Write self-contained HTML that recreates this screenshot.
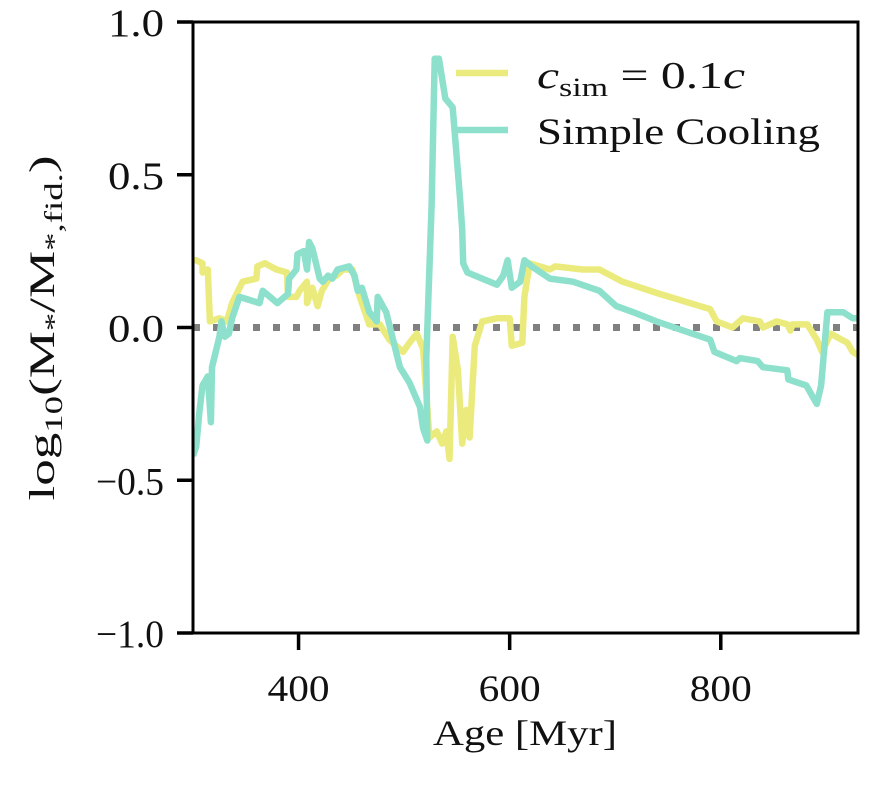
<!DOCTYPE html>
<html><head><meta charset="utf-8"><style>
body{margin:0;background:#fff}
svg text{font-family:"Liberation Serif",serif;fill:#111}
</style></head><body>
<svg id="chart" width="884" height="784">
<g id="plot"></g>
</svg>
<script>
const xTicks=[400,600,800];
const yTicks=[1.0,0.5,0.0,-0.5,-1.0];
const yTickLabels=["1.0","0.5","0.0","\u22120.5","\u22121.0"];
const csimAge=[300,303,309,309,314,316,325,332,337,347,360,361,368,379,389,390,398,401,408,408,413,418,422,429,436,442,451,458,467,477,486,499,505,512,518,524,531,536,540,543,546,551,555,559,562,567,574,588,600,602,612,614,619,638,643,669,685,707,742,790,796,811,821,837,840,853,863,866,868,882,891,896,904,920,925,930];
const csimVal=[0.22,0.22,0.21,0.18,0.19,0.02,0.03,0.02,0.08,0.15,0.16,0.20,0.21,0.19,0.18,0.10,0.10,0.12,0.15,0.08,0.13,0.07,0.12,0.16,0.17,0.19,0.19,0.10,0.01,0.01,-0.04,-0.08,-0.05,-0.02,-0.07,-0.36,-0.34,-0.38,-0.34,-0.43,-0.03,-0.14,-0.38,-0.27,-0.36,-0.06,0.02,0.03,0.03,-0.06,-0.05,0.10,0.21,0.19,0.20,0.19,0.19,0.15,0.11,0.06,0.02,0.00,0.03,0.02,0.00,0.02,0.01,-0.01,0.01,0.01,-0.04,-0.08,-0.02,-0.05,-0.08,-0.09];
const coolAge=[300,303,306,309,314,317,318,325,327,330,334,337,344,363,366,380,390,391,398,399,405,408,410,413,420,423,428,432,437,448,453,456,460,467,474,475,483,496,505,515,518,522,521,526,529,533,539,546,553,555,556,560,588,594,598,602,610,614,621,638,660,685,701,717,739,790,794,815,818,835,840,863,864,881,886,891,895,901,916,925,930];
const coolVal=[-0.42,-0.39,-0.28,-0.19,-0.16,-0.31,-0.13,-0.03,0.02,-0.03,-0.02,0.03,0.10,0.08,0.12,0.08,0.11,0.16,0.19,0.24,0.25,0.19,0.28,0.26,0.16,0.15,0.17,0.16,0.19,0.20,0.17,0.12,0.13,0.05,0.02,0.10,0.05,-0.13,-0.18,-0.26,-0.33,-0.37,-0.10,0.40,0.88,0.88,0.75,0.72,0.42,0.32,0.21,0.18,0.14,0.17,0.22,0.13,0.15,0.22,0.20,0.16,0.15,0.12,0.07,0.05,0.02,-0.04,-0.08,-0.11,-0.10,-0.11,-0.13,-0.14,-0.17,-0.19,-0.22,-0.25,-0.19,0.05,0.05,0.03,0.03];
const L=193,R=858,T=22,B=633,x0=300,x1=930,y0=-1,y1=1;
const sx=v=>L+(v-x0)/(x1-x0)*(R-L);
const sy=v=>B-(v-y0)/(y1-y0)*(B-T);
const NS="http://www.w3.org/2000/svg";
const g=document.getElementById('plot');
function mk(t,a){const e=document.createElementNS(NS,t);for(const k in a)e.setAttribute(k,a[k]);g.appendChild(e);return e;}
const clip=document.createElementNS(NS,'clipPath');clip.id='cp';
const cr=document.createElementNS(NS,'rect');cr.setAttribute('x',L);cr.setAttribute('y',T);cr.setAttribute('width',R-L);cr.setAttribute('height',B-T);clip.appendChild(cr);g.appendChild(clip);
const zl=mk('line',{x1:L,x2:R,y1:sy(0),y2:sy(0),stroke:'#808080','stroke-width':7,'stroke-dasharray':'7 13'});


function path(a,v,c,n){const d=a.map((t,i)=>(i?'L':'M')+sx(t).toFixed(1)+','+sy(v[i]).toFixed(1)).join('');
const p=mk('path',{d:d,fill:'none',stroke:c,'stroke-width':6.5,'stroke-linejoin':'round','clip-path':'url(#cp)'});

}
path(csimAge,csimVal,'#ebeb7d','csim-series-line');
path(coolAge,coolVal,'#8de0cb','simple-cooling-series-line');
const fr=mk('rect',{x:L,y:T,width:R-L,height:B-T,fill:'none',stroke:'#000','stroke-width':3});


xTicks.forEach(t=>{const l=mk('line',{x1:sx(t),x2:sx(t),y1:B,y2:B+17,stroke:'#000','stroke-width':3.5});


const tx=mk('text',{x:sx(t),y:B+68,'text-anchor':'middle','font-size':37,textLength:62,lengthAdjust:'spacingAndGlyphs'});tx.textContent=t;

});
yTicks.forEach((t,i)=>{const l=mk('line',{x1:L-16,x2:L,y1:sy(t),y2:sy(t),stroke:'#000','stroke-width':3.5});


const lab=yTickLabels[i];
const tx=mk('text',{x:164,y:sy(t)+14,'text-anchor':'end','font-size':39,textLength:lab.length>3?68:56,lengthAdjust:'spacingAndGlyphs'});tx.textContent=lab;

});
const xt=mk('text',{x:525,y:745,'text-anchor':'middle','font-size':36,textLength:184,lengthAdjust:'spacingAndGlyphs'});xt.textContent='Age [Myr]';


const yt=mk('text',{x:0,y:0,'text-anchor':'middle','font-size':36,textLength:345,lengthAdjust:'spacingAndGlyphs',transform:'translate(54,328) rotate(-90)'});
yt.innerHTML='log<tspan font-size="25" dy="8">10</tspan><tspan dy="-8">(M</tspan><tspan font-size="25" dy="8">*</tspan><tspan dy="-8">/M</tspan><tspan font-size="25" dy="8">*,fid.</tspan><tspan dy="-8">)</tspan>';


const l1=mk('line',{x1:456,x2:508,y1:73,y2:73,stroke:'#ebeb7d','stroke-width':6.5});


const t1=mk('text',{x:537,y:88,'font-size':38,textLength:208,lengthAdjust:'spacingAndGlyphs'});
t1.innerHTML='<tspan font-style="italic">c</tspan><tspan font-size="26" dy="8">sim</tspan><tspan dy="-8"> = 0.1</tspan><tspan font-style="italic">c</tspan>';


const l2=mk('line',{x1:456,x2:508,y1:130,y2:130,stroke:'#8de0cb','stroke-width':6.5});


const t2=mk('text',{x:537,y:144,'font-size':37,textLength:283,lengthAdjust:'spacingAndGlyphs'});t2.textContent='Simple Cooling';


</script>
</body></html>
